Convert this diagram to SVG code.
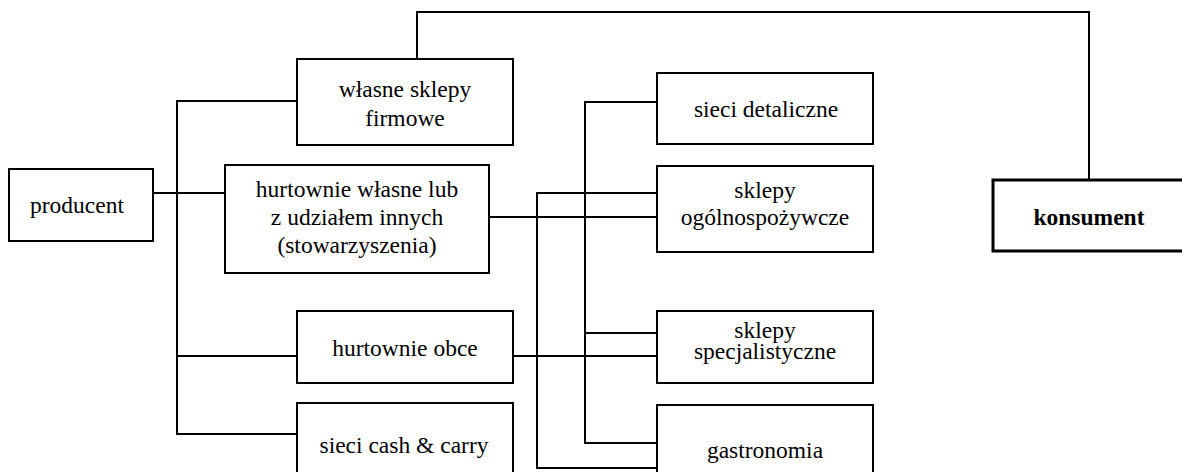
<svg xmlns="http://www.w3.org/2000/svg" width="1182" height="472" viewBox="0 0 1182 472">
  <style>
    .box { fill: #fff; stroke: #000; stroke-width: 2; }
    .box-main { fill: #fff; stroke: #000; stroke-width: 3; }
    .lbl { font-family: "Liberation Serif", "Times New Roman", serif; font-size: 23.5px; fill: #000; text-anchor: middle; }
    .bold { font-weight: bold; }
    .wire { fill: none; stroke: #000; stroke-width: 2; }
  </style>
  <rect width="1182" height="472" fill="#fff"/>

  <!-- connectors -->
  <g id="connectors" class="wire">
    <!-- producer to first-level channels -->
    <path d="M153 193 H225"/>
    <path d="M297 101 H177 V434 H297"/>
    <path d="M177 356 H297"/>
    <!-- own shops straight to the consumer -->
    <path d="M417 60 V12 H1089 V180"/>
    <!-- wholesalers to retail -->
    <path d="M489 217 H657"/>
    <path d="M513 356 H657"/>
    <path d="M657 102 H585 V443 H657"/>
    <path d="M585 333 H657"/>
    <path d="M657 193 H537 V468 H657"/>
  </g>

  <g id="producent">
    <rect class="box" x="9" y="169" width="144" height="72"/>
    <text class="lbl" x="77" y="213">producent</text>
  </g>

  <g id="wlasne-sklepy">
    <rect class="box" x="297" y="59" width="216" height="86"/>
    <text class="lbl" x="405" y="97">własne sklepy</text>
    <text class="lbl" x="405" y="126">firmowe</text>
  </g>

  <g id="hurtownie-wlasne">
    <rect class="box" x="225" y="165" width="264" height="108"/>
    <text class="lbl" x="357" y="197">hurtownie własne lub</text>
    <text class="lbl" x="357" y="225">z udziałem innych</text>
    <text class="lbl" x="357" y="253">(stowarzyszenia)</text>
  </g>

  <g id="hurtownie-obce">
    <rect class="box" x="297" y="311" width="216" height="72"/>
    <text class="lbl" x="405" y="356">hurtownie obce</text>
  </g>

  <g id="cash-carry">
    <rect class="box" x="297" y="403" width="216" height="80"/>
    <text class="lbl" x="404" y="453">sieci cash &amp; carry</text>
  </g>

  <g id="sieci-detaliczne">
    <rect class="box" x="657" y="73" width="216" height="71"/>
    <text class="lbl" x="766" y="117">sieci detaliczne</text>
  </g>

  <g id="ogolnospozywcze">
    <rect class="box" x="657" y="166" width="216" height="86"/>
    <text class="lbl" x="765" y="198">sklepy</text>
    <text class="lbl" x="765" y="225">ogólnospożywcze</text>
  </g>

  <g id="specjalistyczne">
    <rect class="box" x="657" y="311" width="216" height="72"/>
    <text class="lbl" x="765" y="338">sklepy</text>
    <text class="lbl" x="765" y="359">specjalistyczne</text>
  </g>

  <g id="gastronomia">
    <rect class="box" x="657" y="405" width="216" height="80"/>
    <text class="lbl" x="765" y="458">gastronomia</text>
  </g>

  <g id="konsument">
    <rect class="box-main" x="993" y="180" width="194" height="71"/>
    <text class="lbl bold" x="1089" y="225">konsument</text>
  </g>
</svg>
